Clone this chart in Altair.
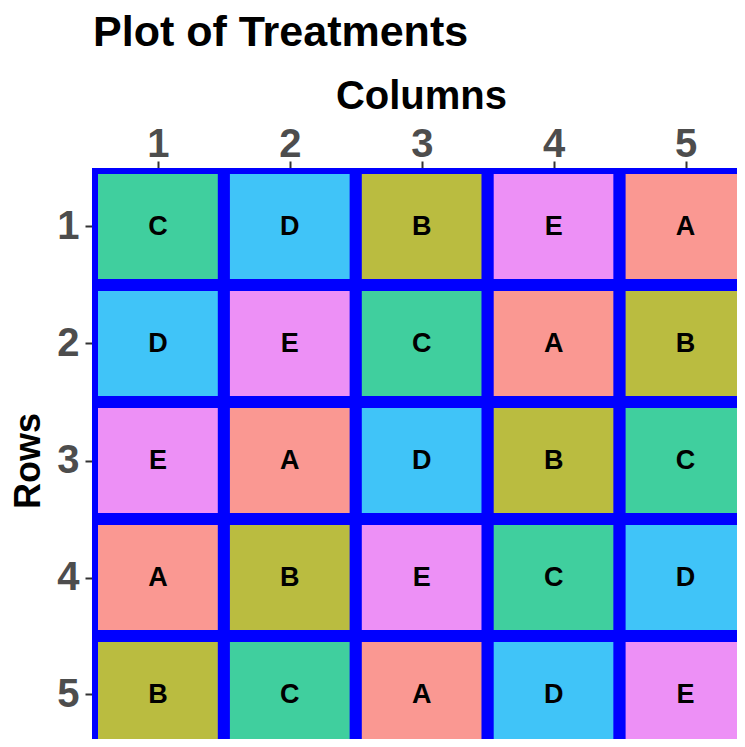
import altair as alt
import pandas as pd

rows = [1, 1, 1, 1, 1, 2, 2, 2, 2, 2, 3, 3, 3, 3, 3, 4, 4, 4, 4, 4, 5, 5, 5, 5, 5]
cols = [1, 2, 3, 4, 5] * 5
treatments = ["C", "D", "B", "E", "A",
              "D", "E", "C", "A", "B",
              "E", "A", "D", "B", "C",
              "A", "B", "E", "C", "D",
              "B", "C", "A", "D", "E"]
levels = ["A", "B", "C", "D", "E"]
palette = ["#FA9892", "#BABC40", "#40CF9E", "#40C4F8", "#ED90F6"]
ticks = [1, 2, 3, 4, 5]

df = pd.DataFrame({"Row": rows, "Col": cols, "Trt": treatments})

FONT = "Liberation Sans"
W, H = 645, 571
xdom = [0.5, 0.5 + W / 131.9]
ydom = [0.5, 0.5 + H / 117.0]

xscale = alt.Scale(domain=xdom, nice=False, zero=False)
yscale = alt.Scale(domain=ydom, nice=False, zero=False, reverse=True)

xaxis = alt.Axis(
    orient="top", values=ticks, format="d", title="Columns",
    grid=False, domain=False, tickSize=7, tickWidth=2, tickColor="#333333",
    labelFont=FONT, labelFontSize=40, labelFontWeight="bold", labelColor="#4D4D4D",
    labelBaseline="alphabetic", labelPadding=5, labelFlush=False, labelOverlap=False,
    titleFont=FONT, titleFontSize=40, titleFontWeight="bold", titleColor="#000000",
    titleBaseline="alphabetic", titleAlign="center", titleX=329, titleY=-60,
)
yaxis = alt.Axis(
    orient="left", values=ticks, format="d", title="Rows",
    grid=False, domain=False, tickSize=7, tickWidth=2, tickColor="#333333",
    labelFont=FONT, labelFontSize=40, labelFontWeight="bold", labelColor="#4D4D4D",
    labelBaseline="middle", labelPadding=6, labelFlush=False, labelOverlap=False,
    titleFont=FONT, titleFontSize=36, titleFontWeight="bold", titleColor="#000000",
    titleBaseline="alphabetic", titleAlign="center", titleAngle=270, titleX=-53, titleY=292.5,
)

base = alt.Chart(df).transform_calculate(
    x1="datum.Col - 0.5", x2="datum.Col + 0.5",
    y1="datum.Row - 0.5", y2="datum.Row + 0.5",
)

tiles = base.mark_rect(stroke="#0000FF", strokeWidth=12, clip=True).encode(
    x=alt.X("x1:Q", scale=xscale, axis=xaxis),
    x2="x2:Q",
    y=alt.Y("y1:Q", scale=yscale, axis=yaxis),
    y2="y2:Q",
    fill=alt.Fill("Trt:N", scale=alt.Scale(domain=levels, range=palette), legend=None),
)

labels = base.mark_text(font=FONT, fontSize=27, fontWeight="bold", color="black",
                        align="center", baseline="middle", clip=True).encode(
    x=alt.X("Col:Q", scale=xscale),
    y=alt.Y("Row:Q", scale=yscale),
    text="Trt:N",
)

chart = alt.layer(tiles, labels).properties(
    width=W, height=H,
    title=alt.TitleParams("Plot of Treatments", anchor="start", frame="group",
                          font=FONT, fontSize=43, fontWeight="bold", color="#000000",
                          baseline="alphabetic", offset=0, dy=13, dx=1),
    autosize=alt.AutoSizeParams(type="none"),
    padding={"left": 84, "top": 160, "right": 0, "bottom": 0},
).configure_view(stroke=None).configure(background="white")

chart.save("out.html", embed_options={"renderer": "svg", "actions": False})
